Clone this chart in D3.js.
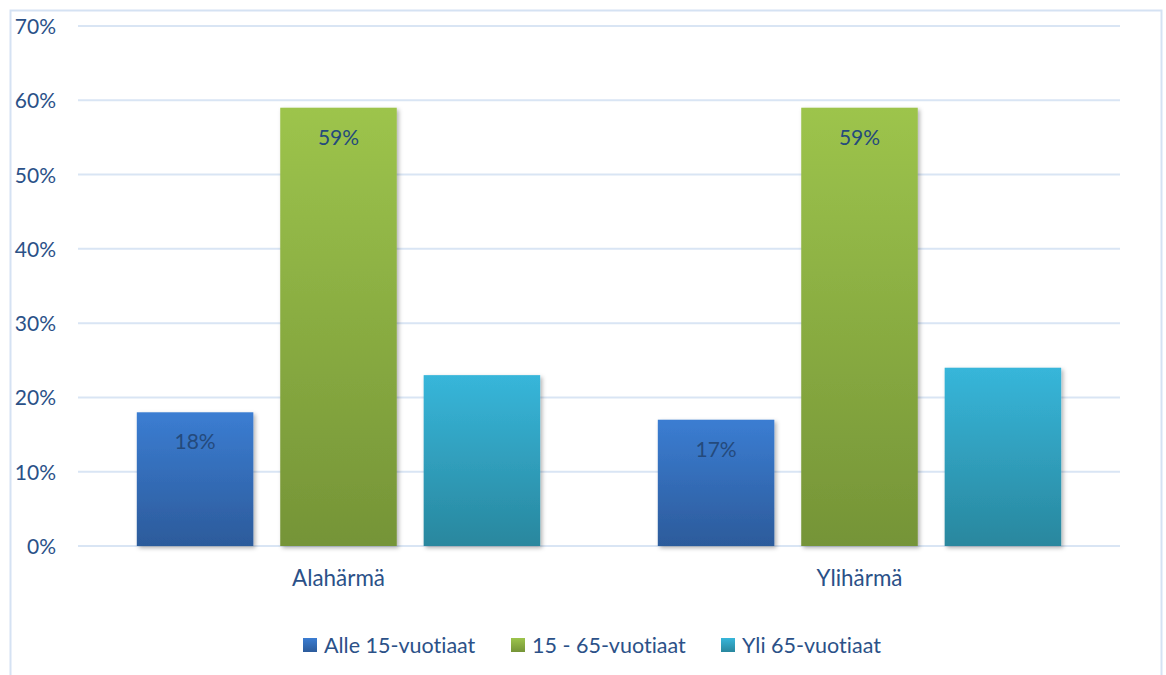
<!DOCTYPE html>
<html>
<head>
<meta charset="utf-8">
<script src="https://cdn.jsdelivr.net/npm/d3@7"></script>
<style>
  html, body { margin: 0; padding: 0; background: #ffffff; }
  svg { display: block; font-family: Lato, "Open Sans", sans-serif; font-variant-ligatures: none; font-feature-settings: "liga" 0, "clig" 0; }
</style>
</head>
<body>
<svg id="chart" width="1166" height="675"></svg>
<script>
// Population shares by age group in the two villages
const categories = ["Alahärmä", "Ylihärmä"];
const seriesNames = ["Alle 15-vuotiaat", "15 - 65-vuotiaat", "Yli 65-vuotiaat"];
const under15 = [0.18, 0.17];
const age15to65 = [0.59, 0.59];
const over65 = [0.23, 0.24];
const labelledSeries = [true, true, false];
const yTicks = [0, 0.1, 0.2, 0.3, 0.4, 0.5, 0.6, 0.7];

const seriesValues = [under15, age15to65, over65];
const colors = [
  { top: "#3b7dd2", bottom: "#2c5b9b" },
  { top: "#9dc44c", bottom: "#759437" },
  { top: "#37b6da", bottom: "#29879e" }
];

const svg = d3.select("#chart");
const W = 1166, H = 675;
const margin = { left: 78, right: 46, top: 26, bottom: 129 };
const plotW = W - margin.left - margin.right;
const plotH = H - margin.top - margin.bottom;

const defs = svg.append("defs");
colors.forEach((c, i) => {
  const g = defs.append("linearGradient")
    .attr("id", "grad" + i).attr("x1", 0).attr("y1", 0).attr("x2", 0).attr("y2", 1);
  g.append("stop").attr("offset", "0%").attr("stop-color", c.top);
  g.append("stop").attr("offset", "100%").attr("stop-color", c.bottom);
});
const shadow = defs.append("filter").attr("id", "barShadow")
  .attr("x", "-10%").attr("y", "-10%").attr("width", "130%").attr("height", "130%");
shadow.append("feDropShadow")
  .attr("dx", 2).attr("dy", 2).attr("stdDeviation", 2)
  .attr("flood-color", "#000").attr("flood-opacity", 0.3);

// outer frame
svg.append("rect")
  .attr("x", 10.5).attr("y", 10.5).attr("width", 1151).attr("height", 680)
  .attr("fill", "#fff").attr("stroke", "#d5e2f3").attr("stroke-width", 2);

const x0 = d3.scaleBand().domain(categories)
  .range([margin.left, margin.left + plotW]).paddingInner(0).paddingOuter(0);
const x1 = d3.scaleBand().domain(d3.range(seriesNames.length))
  .range([0, x0.bandwidth()]).paddingInner(0.1875).paddingOuter(0.41);
const y = d3.scaleLinear().domain([0, 0.7]).range([margin.top + plotH, margin.top]);

// gridlines
svg.append("g")
  .selectAll("line").data(yTicks).join("line")
  .attr("x1", margin.left).attr("x2", margin.left + plotW)
  .attr("y1", d => y(d)).attr("y2", d => y(d))
  .attr("stroke", "#d9e5f4").attr("stroke-width", 2);

// y axis labels
const yAxis = d3.axisLeft(y).tickValues(yTicks).tickFormat(d3.format(".0%")).tickSize(0).tickPadding(0);
const yg = svg.append("g").attr("transform", "translate(56,0)").call(yAxis);
yg.select(".domain").remove();
yg.selectAll("text").attr("fill", "#2b5188").attr("font-size", 21)
  .attr("font-family", "Lato, sans-serif").attr("dy", "0.36em");

// bars
const groups = svg.append("g").selectAll("g").data(categories).join("g")
  .attr("transform", d => `translate(${x0(d)},0)`);

groups.each(function(cat, ci) {
  const g = d3.select(this);
  seriesValues.forEach((vals, si) => {
    const v = vals[ci];
    g.append("rect")
      .attr("x", x1(si)).attr("width", x1.bandwidth())
      .attr("y", y(v)).attr("height", y(0) - y(v))
      .attr("fill", `url(#grad${si})`)
      .attr("filter", "url(#barShadow)");
    if (labelledSeries[si]) {
      g.append("text")
        .attr("x", x1(si) + x1.bandwidth() / 2)
        .attr("y", y(v) + 29.5)
        .attr("dy", "0.36em")
        .attr("text-anchor", "middle")
        .attr("font-size", 21)
        .attr("fill", "#244a7c")
        .text(d3.format(".0%")(v));
    }
  });
});

// category labels
svg.append("g").selectAll("text").data(categories).join("text")
  .attr("x", d => x0(d) + x0.bandwidth() / 2)
  .attr("y", 578).attr("dy", "0.36em")
  .attr("text-anchor", "middle")
  .attr("font-size", 22.4).attr("fill", "#2b5188")
  .text(d => d);

// legend
const legendX = [303, 511, 721];
const legend = svg.append("g").selectAll("g").data(seriesNames).join("g")
  .attr("transform", (d, i) => `translate(${legendX[i]},645)`);
legend.append("rect").attr("x", 0).attr("y", -7).attr("width", 14).attr("height", 14)
  .attr("fill", (d, i) => `url(#grad${i})`);
legend.append("text").attr("x", 21).attr("y", 0).attr("dy", "0.36em")
  .attr("font-size", 21.5).attr("fill", "#2b5188")
  .text(d => d);
</script>
</body>
</html>
